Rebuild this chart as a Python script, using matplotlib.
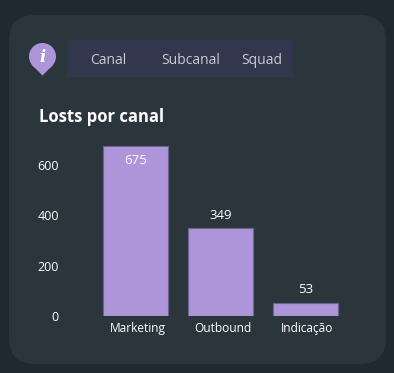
import matplotlib
matplotlib.use("Agg")
import matplotlib.pyplot as plt
from matplotlib.patches import FancyBboxPatch, Rectangle, Circle, Polygon
from matplotlib.transforms import ScaledTranslation

channels = ["Marketing", "Outbound", "Indicação"]
losts = [675, 349, 53]
y_ticks = [0, 200, 400, 600]
tabs = ["Canal", "Subcanal", "Squad"]

W, H = 394, 373
plt.rcParams["font.family"] = ["Open Sans", "DejaVu Sans"]

fig = plt.figure(figsize=(W / 100, H / 100), dpi=100, facecolor="#1f2a30")

# background layer in pixel coordinates
bg = fig.add_axes([0, 0, 1, 1])
bg.set_xlim(0, W)
bg.set_ylim(H, 0)
bg.axis("off")

bg.add_patch(FancyBboxPatch((9 + 26, 15 + 26), 377 - 52, 349 - 52,
                            boxstyle="round,pad=26,rounding_size=26",
                            fc="#2b363c", ec="none"))
bg.add_patch(Rectangle((67, 40), 226, 37, fc="#33374d", ec="none"))

# info pin
bg.add_patch(Polygon([(32, 65), (53, 65), (42.5, 75.5)], fc="#ae95da", ec="none"))
bg.add_patch(Circle((42.5, 56.5), 13.5, fc="#ae95da", ec="none"))
bg.text(42.5, 57, "i", color="white", fontsize=12, fontweight="bold", style="italic",
        family="DejaVu Serif", ha="center", va="center")

for label, x in zip(tabs, [108, 190.5, 262]):
    bg.text(x, 60.5, label, color="#c8ccd4", fontsize=10, ha="center", va="center")

bg.text(39, 117, "Losts por canal", color="white", fontsize=12, fontweight="bold",
        va="center", ha="left")

# bars
px_per_unit = 170 / 675
ymax = 700
ax = fig.add_axes([93 / W, 1 - 316 / H, 255 / W, ymax * px_per_unit / H])
ax.patch.set_alpha(0)
bars = ax.bar(range(3), losts, width=0.765, color="#ae95da",
              edgecolor="#6b6490", linewidth=0.8)
ax.set_xlim(-0.5, 2.5)
ax.set_ylim(0, ymax)
for s in ax.spines.values():
    s.set_visible(False)
ax.set_yticks(y_ticks)
ax.set_xticks(range(3))
ax.set_xticklabels(channels)
ax.tick_params(axis="y", length=0, pad=24.5, labelcolor="white", labelsize=9)
ax.tick_params(axis="x", length=0, pad=4, labelcolor="white", labelsize=8.6)
shift = ScaledTranslation(2 / 100, 0, fig.dpi_scale_trans)
for t in ax.get_xticklabels():
    t.set_transform(t.get_transform() + shift)

for i, v in enumerate(losts):
    if v > 600:
        ax.annotate(str(v), (i, v), xytext=(0, -14), textcoords="offset pixels",
                    color="white", fontsize=9.5, ha="center", va="center")
    else:
        ax.annotate(str(v), (i, v), xytext=(0, 13), textcoords="offset pixels",
                    color="white", fontsize=9.5, ha="center", va="center")

fig.savefig("out.png", dpi=100, facecolor=fig.get_facecolor())
